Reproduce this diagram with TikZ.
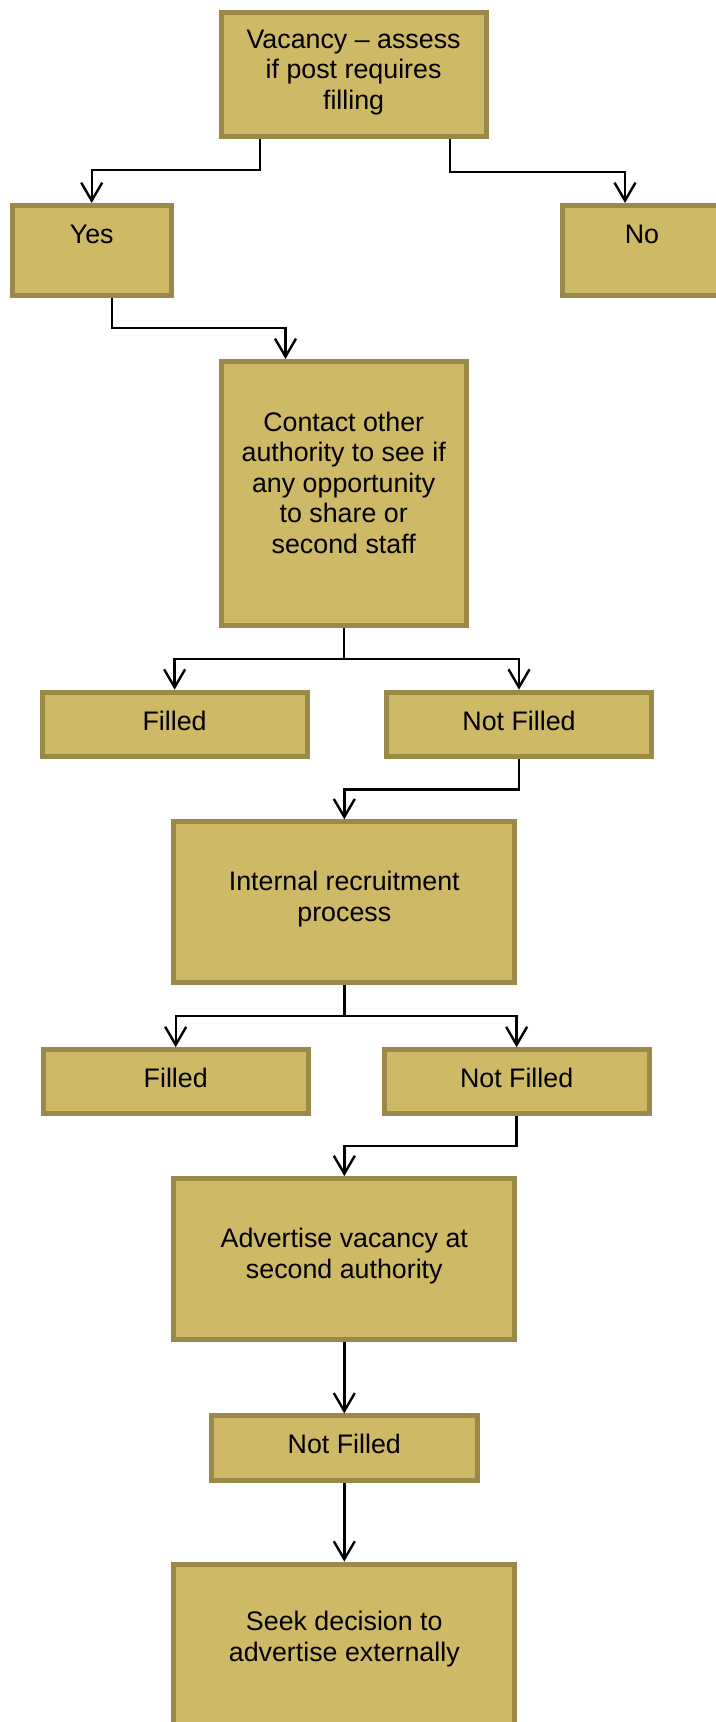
\documentclass[tikz,border=0pt]{standalone}
\usepackage{fontspec}
\setmainfont{Liberation Sans}
\usetikzlibrary{arrows.meta}

\definecolor{boxfill}{RGB}{206,185,102}
\definecolor{boxline}{RGB}{155,137,74}

\tikzset{
  box/.style={draw=boxline, fill=boxfill, line width=2.5pt, align=center,
    inner sep=2pt, font=\fontsize{13.4}{15.3}\selectfont},
  smallbox/.style={box, minimum width=132.6pt, minimum height=32.1pt, text depth=4pt},
  arr/.style={line width=1.2pt, -{Straight Barb[length=9pt,width=10.5pt,line width=1.2pt]}},
}

\begin{document}
\begin{tikzpicture}[x=0.5pt, y=-0.5pt]
\path[use as bounding box, clip] (0,0) rectangle (716,1722);
\node[box, minimum width=132.6pt, minimum height=62.3pt, text depth=5pt] (vac) at (353.6,74.7)
  {Vacancy -- assess\\if post requires\\filling};
\node[box, minimum width=79.3pt, minimum height=44.8pt, text depth=16pt] (yes) at (91.7,250.3) {Yes};
\node[box, minimum width=79.3pt, minimum height=44.8pt, text depth=16pt] (no) at (642,250.3) {No};
\node[box, minimum width=122.7pt, minimum height=132pt, text depth=11pt] (contact) at (343.7,493.5)
  {Contact other\\authority to see if\\any opportunity\\to share or\\second staff};
\node[smallbox] (fill1) at (174.6,724.3) {Filled};
\node[smallbox] (notfill1) at (519,724.3) {Not Filled};
\node[box, minimum width=170.5pt, minimum height=80.4pt, text depth=6pt] (internal) at (344.3,902.2)
  {Internal recruitment\\process};
\node[smallbox] (fill2) at (175.7,1081.8) {Filled};
\node[smallbox] (notfill2) at (516.6,1081.8) {Not Filled};
\node[box, minimum width=170.5pt, minimum height=80.4pt, text depth=6pt] (advert) at (344.3,1259)
  {Advertise vacancy at\\second authority};
\node[smallbox, minimum width=133.1pt] (notfill3) at (344.3,1448) {Not Filled};
\node[box, minimum width=170.5pt, minimum height=80.4pt, text depth=8pt] (seek) at (344.3,1644.5)
  {Seek decision to\\advertise externally};
\draw[arr] ([xshift=-46.8pt]vac.south) -- ++(0,30.5) -| (yes.north);
\draw[arr] ([xshift=48.2pt]vac.south) -- ++(0,32.5) -| ([xshift=-8.5pt]no.north);
\draw[arr] ([xshift=10.2pt]yes.south) -- ++(0,30.4) -| ([xshift=-29.1pt]contact.north);
\draw[arr] (contact.south) -- ++(0,31) -| (fill1.north);
\draw[arr] (contact.south) -- ++(0,31) -| (notfill1.north);
\draw[arr] (notfill1.south) -- ++(0,30.7) -| (internal.north);
\draw[arr] (internal.south) -- ++(0,30.8) -| (fill2.north);
\draw[arr] (internal.south) -- ++(0,30.8) -| (notfill2.north);
\draw[arr] (notfill2.south) -- ++(0,29.6) -| (advert.north);
\draw[arr] (advert.south) -- (notfill3.north);
\draw[arr] (notfill3.south) -- (seek.north);
\end{tikzpicture}
\end{document}
